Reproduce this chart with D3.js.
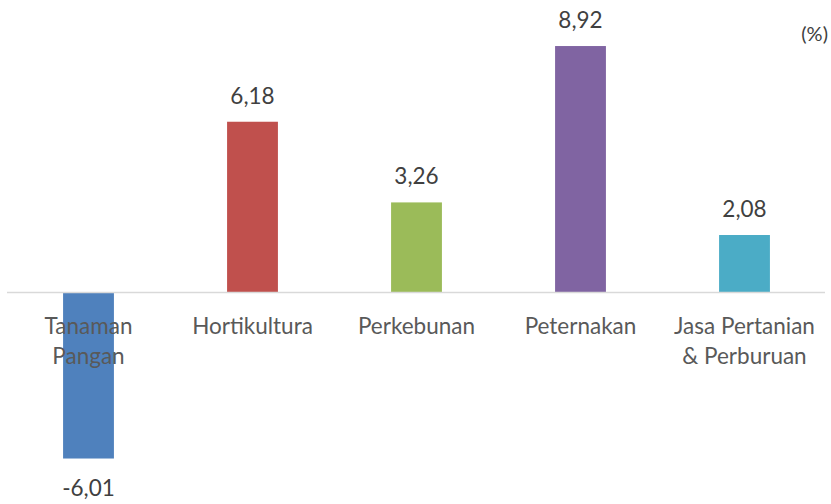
<!DOCTYPE html>
<html>
<head>
<meta charset="utf-8">
<script src="https://cdn.jsdelivr.net/npm/d3@7"></script>
<style>
  body { margin: 0; background: #fff; }
  text { font-family: Lato, "Open Sans", sans-serif; }
</style>
</head>
<body>
<svg id="chart"></svg>
<script>
// data
const categories = [["Tanaman", "Pangan"], ["Hortikultura"], ["Perkebunan"], ["Peternakan"], ["Jasa Pertanian", "& Perburuan"]];
const values = [-6.01, 6.18, 3.26, 8.92, 2.08];
const valueLabels = ["-6,01", "6,18", "3,26", "8,92", "2,08"];
const colors = ["#4f81bd", "#c0504d", "#9bbb59", "#8064a2", "#4bacc6"];
const unitLabel = "(%)";

const width = 831;
const height = 504;

const svg = d3.select('#chart')
    .attr('width', width)
    .attr('height', height);

// scales
const x = d3.scaleBand()
    .domain(d3.range(values.length))
    .range([6.5, 826.5])
    .paddingInner(0.69)
    .paddingOuter(0.345);

const y = d3.scaleLinear()
    .domain([-8, 10])
    .range([513.5, 16.2]);

// bars
svg.selectAll('rect.bar')
    .data(values)
    .enter()
    .append('rect')
    .attr('class', 'bar')
    .attr('x', (d, i) => x(i))
    .attr('width', x.bandwidth())
    .attr('y', (d) => y(Math.max(0, d)))
    .attr('height', (d) => Math.abs(y(d) - y(0)))
    .attr('fill', (d, i) => colors[i]);

// zero line
svg.append('line')
    .attr('x1', 7)
    .attr('x2', 825)
    .attr('y1', y(0))
    .attr('y2', y(0))
    .attr('stroke', '#d9d9d9')
    .attr('stroke-width', 1.5);

// value labels
svg.selectAll('text.value')
    .data(values)
    .enter()
    .append('text')
    .attr('class', 'value')
    .attr('x', (d, i) => x(i) + x.bandwidth() / 2)
    .attr('y', (d) => d >= 0 ? y(d) - 18 : y(d) + 37)
    .attr('text-anchor', 'middle')
    .attr('font-size', 22.5)
    .attr('fill', '#404040')
    .text((d, i) => valueLabels[i]);

// category labels (multi-line)
const cat = svg.selectAll('text.cat')
    .data(categories)
    .enter()
    .append('text')
    .attr('class', 'cat')
    .attr('text-anchor', 'middle')
    .attr('font-size', 22.5)
    .attr('fill', '#595959');

cat.selectAll('tspan')
    .data((d, i) => d.map((line) => ({ line, i })))
    .enter()
    .append('tspan')
    .attr('x', (d) => x(d.i) + x.bandwidth() / 2)
    .attr('y', (d, j) => 334 + j * 30)
    .text((d) => d.line);

// unit
svg.append('text')
    .attr('x', 828)
    .attr('y', 41)
    .attr('text-anchor', 'end')
    .attr('font-size', 20)
    .attr('fill', '#404040')
    .text(unitLabel);
</script>
</body>
</html>
